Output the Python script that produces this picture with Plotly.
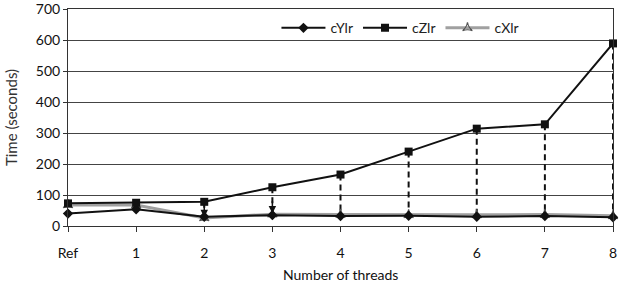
import plotly.graph_objects as go

categories = ["Ref", "1", "2", "3", "4", "5", "6", "7", "8"]
cYlr = [40, 54, 30, 35, 32, 33, 30, 32, 28]
cZlr = [73, 75, 78, 125, 166, 240, 314, 328, 589]
cXlr = [68, 68, 26, 38, 37, 36, 36, 37, 33]
# dashed drop lines (from cZlr down to cXlr) at these categories
drop_cats = ["2", "3", "4", "5", "6", "7", "8"]

FONT = "Lato, Open Sans, sans-serif"
M_T, M_B = 9, 58
PLOT_H = 284 - M_T - M_B

fig = go.Figure()

# dashed drop lines
for c in drop_cats:
    i = categories.index(c)
    fig.add_trace(go.Scatter(
        x=[c, c], y=[cZlr[i], cXlr[i]], mode="lines",
        line=dict(color="#111", width=2, dash="6px,4px"),
        showlegend=False, hoverinfo="skip", cliponaxis=False))

fig.add_trace(go.Scatter(
    x=categories, y=cXlr, name="cXlr", mode="lines+markers",
    line=dict(color="#a0a0a0", width=3),
    marker=dict(symbol="star-triangle-up-open", size=7, color="#555",
                line=dict(width=1.2, color="#555")),
    cliponaxis=False))
fig.add_trace(go.Scatter(
    x=categories, y=cYlr, name="cYlr", mode="lines+markers",
    line=dict(color="#111", width=2),
    marker=dict(symbol="diamond", size=8, color="#111"),
    cliponaxis=False))
fig.add_trace(go.Scatter(
    x=categories, y=cZlr, name="cZlr", mode="lines+markers",
    line=dict(color="#111", width=2),
    marker=dict(symbol="square", size=8, color="#111"),
    cliponaxis=False))

# arrow heads at the bottom of the drop lines
for c in ["2", "3"]:
    i = categories.index(c)
    fig.add_annotation(x=c, y=cXlr[i] + 2, ax=0, ay=-14, xref="x", yref="y",
                       showarrow=True, arrowhead=2, arrowsize=1, arrowwidth=1.5,
                       arrowcolor="#111", text="")

# x-axis title (placed at the bottom edge as in the reference)
fig.add_annotation(text="Number of threads", xref="paper", yref="paper",
                   x=0.5, y=-M_B / PLOT_H, xanchor="center", yanchor="bottom",
                   showarrow=False, font=dict(size=14, color="#111"), borderpad=0)

fig.update_layout(
    width=624, height=284,
    margin=dict(l=68, r=11, t=M_T, b=M_B),
    paper_bgcolor="white", plot_bgcolor="white",
    font=dict(family=FONT, size=14, color="#222"),
    legend=dict(orientation="h", x=0.61, xanchor="center", y=0.985, yanchor="top",
                traceorder="normal", bgcolor="rgba(255,255,255,0)",
                font=dict(size=14), itemwidth=44),
    showlegend=True,
)
# legend order: cYlr, cZlr, cXlr
fig.data[-3].legendrank = 3
fig.data[-2].legendrank = 1
fig.data[-1].legendrank = 2

fig.update_xaxes(
    type="category", categoryorder="array", categoryarray=categories,
    range=[0, 8], showgrid=False, showline=True, linecolor="#333", linewidth=1,
    mirror=True, ticks="outside", ticklen=5, tickcolor="#333",
    ticklabelstandoff=9, tickfont=dict(size=14, color="#111"),
    automargin=False, ticklabeloverflow="allow",
    zeroline=False, fixedrange=True)
fig.update_yaxes(
    range=[0, 700], dtick=100, showgrid=True, gridcolor="#444", gridwidth=1,
    showline=True, linecolor="#333", linewidth=1, mirror=True,
    ticks="outside", ticklen=4, tickcolor="#333",
    tickfont=dict(size=14, color="#111"),
    title=dict(text="Time (seconds)", standoff=14, font=dict(size=15, color="#333")),
    automargin=False, ticklabeloverflow="allow",
    zeroline=False, fixedrange=True)

fig.write_html("out.html")
